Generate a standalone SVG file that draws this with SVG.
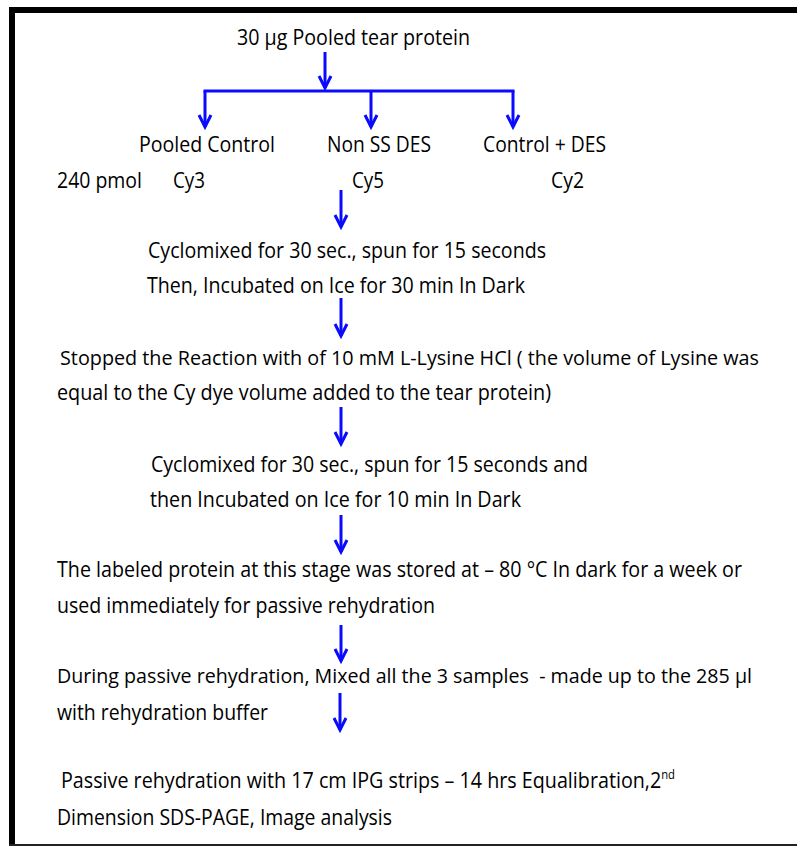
<svg xmlns="http://www.w3.org/2000/svg" width="797" height="846" viewBox="0 0 797 846">
  <style>
    .t { font-family: "Open Sans", "Noto Sans", "Liberation Sans", sans-serif; font-size: 21px; fill: #000; font-variant-ligatures: none; }
    .long { font-size: 20px; }
    .flow { fill: none; stroke: #0a0aff; stroke-width: 3; }
    .down { marker-end: url(#chev); }
  </style>
  <defs>
    <!-- open chevron arrowhead -->
    <marker id="chev" markerUnits="userSpaceOnUse" viewBox="-15 -9 17 18" markerWidth="17" markerHeight="18" refX="0" refY="0" orient="auto" overflow="visible">
      <path d="M-12,-6 L0,0 L-12,6" fill="none" stroke="#0a0aff" stroke-width="3" stroke-linejoin="miter"/>
    </marker>
  </defs>

  <rect width="797" height="846" fill="#fff"/>

  <!-- page frame -->
  <g id="frame" fill="#000">
    <rect x="9" y="7" width="6" height="839"/>
    <rect x="9" y="7" width="788" height="6"/>
    <rect x="9" y="844" width="788" height="2" fill="#222"/>
  </g>

  <!-- connectors -->
  <g id="connectors" class="flow">
    <path class="down" d="M325,52 V88"/>
    <path d="M205,91 H513" stroke-linecap="square"/>
    <path class="down" d="M205,91 V127"/>
    <path class="down" d="M371,91 V127"/>
    <path class="down" d="M513,91 V127"/>
    <path class="down" d="M341,190 V227"/>
    <path class="down" d="M341,298 V336"/>
    <path class="down" d="M341,407 V444"/>
    <path class="down" d="M341,515 V552"/>
    <path class="down" d="M341,625 V661"/>
    <path class="down" d="M340,693 V730"/>
  </g>

  <g id="source">
    <text class="t" x="237" y="45" textLength="233" lengthAdjust="spacingAndGlyphs">30 µg Pooled tear protein</text>
  </g>

  <g id="pooled-control">
    <text class="t" x="139" y="152" textLength="136" lengthAdjust="spacingAndGlyphs">Pooled Control</text>
    <text class="t" x="173" y="188" textLength="32" lengthAdjust="spacingAndGlyphs">Cy3</text>
  </g>

  <g id="non-ss-des">
    <text class="t" x="327" y="152" textLength="104" lengthAdjust="spacingAndGlyphs">Non SS DES</text>
    <text class="t" x="352" y="188" textLength="32" lengthAdjust="spacingAndGlyphs">Cy5</text>
  </g>

  <g id="control-des">
    <text class="t" x="483" y="152" textLength="123" lengthAdjust="spacingAndGlyphs">Control + DES</text>
    <text class="t" x="551" y="188" textLength="33" lengthAdjust="spacingAndGlyphs">Cy2</text>
  </g>

  <g id="dye-amount">
    <text class="t" x="57" y="188" textLength="85" lengthAdjust="spacingAndGlyphs">240 pmol</text>
  </g>

  <g id="step-mix-1">
    <text class="t" x="148" y="258" textLength="398" lengthAdjust="spacingAndGlyphs">Cyclomixed for 30 sec., spun for 15 seconds</text>
    <text class="t" x="147" y="293" textLength="378" lengthAdjust="spacingAndGlyphs">Then, Incubated on Ice for 30 min In Dark</text>
  </g>

  <g id="step-stop">
    <text class="t long" x="60" y="365" textLength="699" lengthAdjust="spacingAndGlyphs">Stopped the Reaction with of 10 mM L-Lysine HCl ( the volume of Lysine was</text>
    <text class="t" x="57" y="400" textLength="494" lengthAdjust="spacingAndGlyphs">equal to the Cy dye volume added to the tear protein)</text>
  </g>

  <g id="step-mix-2">
    <text class="t" x="151" y="472" textLength="437" lengthAdjust="spacingAndGlyphs">Cyclomixed for 30 sec., spun for 15 seconds and</text>
    <text class="t" x="150" y="507" textLength="371" lengthAdjust="spacingAndGlyphs">then Incubated on Ice for 10 min In Dark</text>
  </g>

  <g id="step-store">
    <text class="t" x="57" y="577" textLength="685" lengthAdjust="spacingAndGlyphs">The labeled protein at this stage was stored at – 80 °C In dark for a week or</text>
    <text class="t" x="57" y="613" textLength="378" lengthAdjust="spacingAndGlyphs">used immediately for passive rehydration</text>
  </g>

  <g id="step-pool">
    <text class="t long" x="57" y="683" textLength="695" lengthAdjust="spacingAndGlyphs" xml:space="preserve">During passive rehydration, Mixed all the 3 samples  - made up to the 285 µl</text>
    <text class="t" x="57" y="720" textLength="211" lengthAdjust="spacingAndGlyphs">with rehydration buffer</text>
  </g>

  <g id="step-final">
    <text class="t" x="61" y="788" textLength="614" lengthAdjust="spacingAndGlyphs">Passive rehydration with 17 cm IPG strips – 14 hrs Equalibration,2<tspan dy="-9" font-size="12">nd</tspan></text>
    <text class="t" x="57" y="825" textLength="335" lengthAdjust="spacingAndGlyphs">Dimension SDS-PAGE, Image analysis</text>
  </g>
</svg>
